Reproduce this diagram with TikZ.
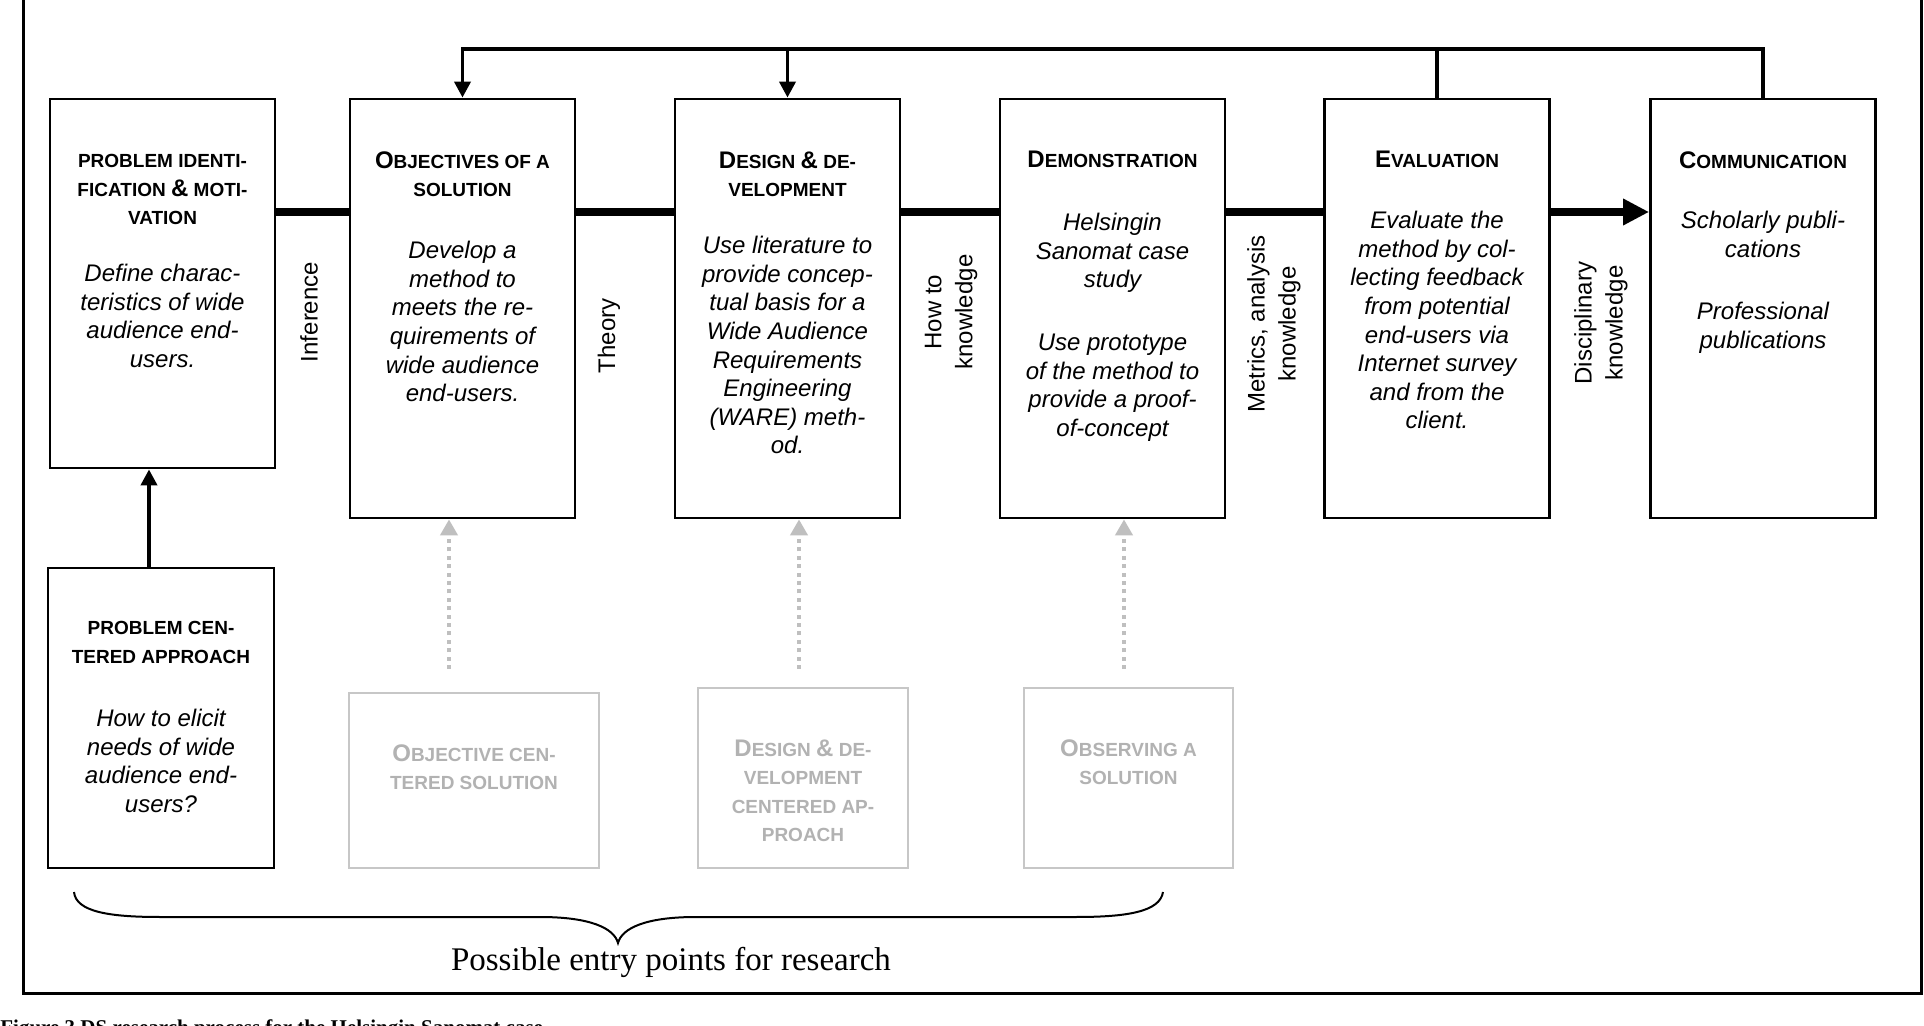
\documentclass[tikz,border=0pt]{standalone}
\usepackage{fontspec}
\setmainfont{Liberation Sans}
\newfontfamily\serifcap{Liberation Serif}
\usetikzlibrary{arrows.meta}
\newcommand\BCs[1]{{\fontsize{12}{14.3}\selectfont #1}}
\begin{document}
\begin{tikzpicture}[x=0.5pt,y=-0.5pt,
  box/.style={draw, line width=1.4pt, inner sep=0pt},
  gbox/.style={draw=black!22, line width=1.1pt, inner sep=0pt},
  ttl/.style={anchor=north, inner sep=0pt, align=center, font=\bfseries\fontsize{9.5}{14.3}\selectfont},
  gttl/.style={ttl, text=black!30},
  body/.style={anchor=north, inner sep=0pt, align=center, font=\itshape\fontsize{12}{14.3}\selectfont},
  vlab/.style={rotate=90, inner sep=0pt, align=center, font=\fontsize{12}{15.5}\selectfont},
  mainln/.style={line width=4pt},
  fb/.style={line width=1.9pt, line join=miter},
  fbarrow/.style={fb, -{Triangle[width=8pt,length=8pt]}},
  gar/.style={draw=black!25, line width=2pt, dash pattern=on 2pt off 2.2pt, -{Triangle[width=8.5pt,length=8pt,fill=black!25]}},
]
\useasboundingbox (0,0) rectangle (1924,1026);
\fill[white] (0,0) rectangle (1924,1026);

% frame
\draw[line width=1.5pt] (23,-20) -- (23,993) -- (1921,993) -- (1921,-20);

% main boxes
\node[box, minimum width=112.5pt, minimum height=184.5pt] (n1) at (162.5,283.5) {};
\node[box, minimum width=112.5pt, minimum height=209.5pt] (n2) at (462.5,308.5) {};
\node[box, minimum width=112.5pt, minimum height=209.5pt] (n3) at (787.5,308.5) {};
\node[box, minimum width=112.5pt, minimum height=209.5pt] (n4) at (1112.5,308.5) {};
\node[box, minimum width=112.5pt, minimum height=209.5pt] (n5) at (1437,308.5) {};
\node[box, minimum width=112.5pt, minimum height=209.5pt] (n6) at (1763,308.5) {};
\node[box, minimum width=113pt, minimum height=150pt] (n7) at (161,718) {};
\node[gbox, minimum width=125pt, minimum height=87.5pt] (n8) at (474,780.5) {};
\node[gbox, minimum width=105pt, minimum height=90pt] (n9) at (803,778) {};
\node[gbox, minimum width=104.5pt, minimum height=90pt] (n10) at (1128.5,778) {};

% titles
\node[ttl] (t1) at (162.5,154) {PROBLEM IDENTI-\\FICATION \BCs{\&} MOTI-\\VATION};
\node[ttl] (t2) at (462.5,151) {\BCs{O}BJECTIVES OF A\\SOLUTION};
\node[ttl] (t3) at (787.5,151) {\BCs{D}ESIGN \BCs{\&} DE-\\VELOPMENT};
\node[ttl] (t4) at (1112.5,151) {\BCs{D}EMONSTRATION};
\node[ttl] (t5) at (1437,151) {\BCs{E}VALUATION};
\node[ttl] (t6) at (1763,151) {\BCs{C}OMMUNICATION};
\node[ttl] (t7) at (161,621) {PROBLEM CEN-\\TERED APPROACH};
\node[gttl] (t8) at (474,744) {\BCs{O}BJECTIVE CEN-\\TERED SOLUTION};
\node[gttl] (t9) at (803,739) {\BCs{D}ESIGN \BCs{\&} DE-\\VELOPMENT\\CENTERED AP-\\PROACH};
\node[gttl] (t10) at (1128.5,739) {\BCs{O}BSERVING A\\SOLUTION};

% bodies
\node[body] (b1) at (162.5,264) {Define charac-\\teristics of wide\\audience end-\\users.};
\node[body] (b2) at (462.5,241) {Develop a\\method to\\meets the re-\\quirements of\\wide audience\\end-users.};
\node[body] (b3) at (787.5,236) {Use literature to\\provide concep-\\tual basis for a\\Wide Audience\\Requirements\\Engineering\\(WARE) meth-\\od.};
\node[body] (b4) at (1112.5,213) {Helsingin\\Sanomat case\\study\\[17pt]Use prototype\\of the method to\\provide a proof-\\of-concept};
\node[body] (b5) at (1437,211) {Evaluate the\\method by col-\\lecting feedback\\from potential\\end-users via\\Internet survey\\and from the\\client.};
\node[body] (b6) at (1763,211) {Scholarly publi-\\cations\\[17pt]Professional\\publications};
\node[body] (b7) at (161,709) {How to elicit\\needs of wide\\audience end-\\users?};

% vertical labels
\node[vlab] (l1) at (309,312) {Inference};
\node[vlab] (l2) at (609,336) {Theory};
\node[vlab] (l3) at (951,312) {How to\\knowledge};
\node[vlab] (l4) at (1274,324) {Metrics, analysis\\knowledge};
\node[vlab] (l5) at (1601,323) {Disciplinary\\knowledge};

% main process line
\coordinate (my) at (0,212);
\draw[mainln] (n1.east |- my) -- (n2.west |- my);
\draw[mainln] (n2.east |- my) -- (n3.west |- my);
\draw[mainln] (n3.east |- my) -- (n4.west |- my);
\draw[mainln] (n4.east |- my) -- (n5.west |- my);
\draw[mainln, -{Triangle[width=12.5pt,length=13pt]}] (n5.east |- my) -- (n6.west |- my);

% feedback lines
\coordinate (fy) at (0,49);
\draw[fbarrow] (n6.north) |- (n2.north |- fy) -- (n2.north);
\draw[fb] (n5.north) -- (n5.north |- fy);
\draw[fbarrow] (n3.north |- fy) -- (n3.north);

% problem centered approach -> problem identification
\coordinate (ax) at (149,0);
\draw[fbarrow] (n7.north -| ax) -- (n1.south -| ax);

% grey entry arrows
\coordinate (g1) at (449,669);
\coordinate (g2) at (799,669);
\coordinate (g3) at (1124,669);
\draw[gar] (g1) -- (n2.south -| g1);
\draw[gar] (g2) -- (n3.south -| g2);
\draw[gar] (g3) -- (n4.south -| g3);

% brace
\draw[line width=1pt] (74,892) .. controls (76,912) and (110,917) .. (160,917) -- (540,917)
  .. controls (590,917) and (614,928) .. (618,943)
  .. controls (622,928) and (646,917) .. (696,917) -- (1076,917)
  .. controls (1126,917) and (1160,912) .. (1163,892);
\node[font=\serifcap\fontsize{16.5}{19}\selectfont, inner sep=0pt] (pe) at (671,962) {Possible entry points for research};

% cut-off caption
\node[anchor=base west, inner sep=0pt, font=\serifcap\bfseries\fontsize{10.5}{12}\selectfont] (cap) at (0,1034) {Figure 3 DS research process for the Helsingin Sanomat case};
\end{tikzpicture}
\end{document}
